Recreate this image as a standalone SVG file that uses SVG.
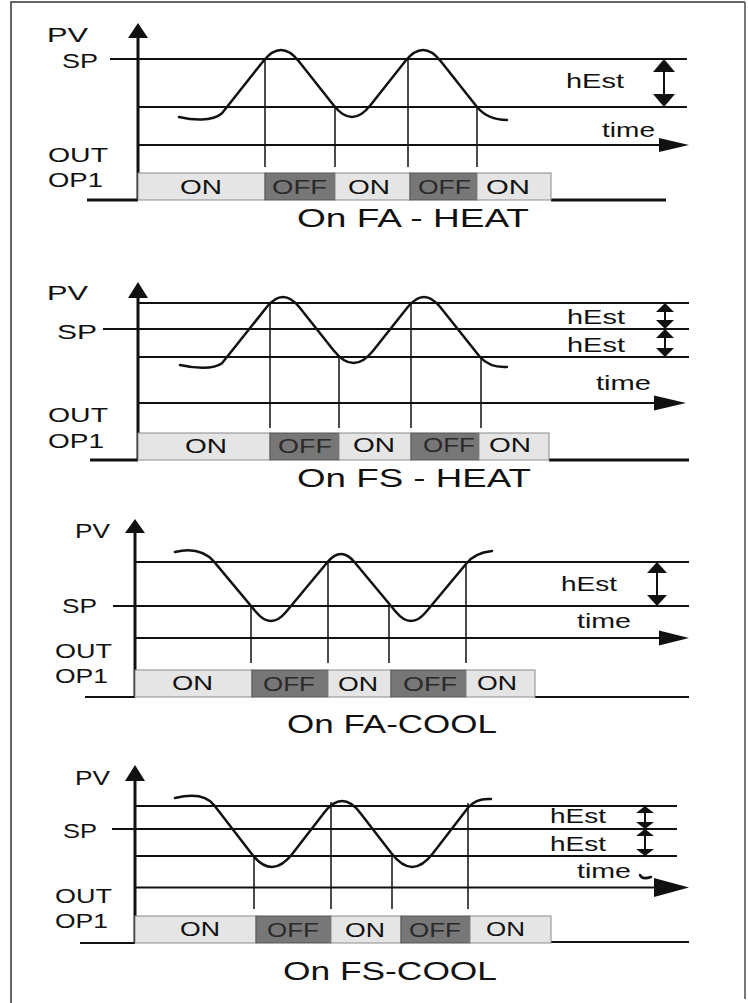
<svg xmlns="http://www.w3.org/2000/svg" width="748" height="1003" viewBox="0 0 748 1003">
<style>
.t{font-family:"Liberation Sans",Arial,sans-serif;fill:#111}
.lb{font-size:21px}
.ttl{font-size:25px}
.ln{stroke:#111;stroke-width:2;fill:none}
.ax{stroke:#111;stroke-width:3;fill:none}
.wave{stroke:#111;stroke-width:2.5;fill:none;stroke-linejoin:round;stroke-linecap:round}
.vt{stroke:#111;stroke-width:1.5}
.on{fill:#e5e5e5;stroke:#8a8a8a;stroke-width:1}
.off{fill:#777;stroke:#555;stroke-width:1}
.offt{fill:#2a2a2a}
.hd{fill:#111}
.frame{stroke:#333;stroke-width:1.5;fill:none}
</style>
<rect width="748" height="1003" fill="#fff"/>
<g id="frame">
<path class="frame" d="M11 1003 V2 H745"/>
<path d="M745 2 V999" stroke="#777" stroke-width="2" fill="none"/>
</g>

<!-- Panel 1 : On FA - HEAT -->
<g id="panel1">
<g id="p1-connectors">
<line class="ax" x1="138" y1="37" x2="138" y2="200"/>
<polygon class="hd" points="128,38 138,23 148,38"/>
<line class="ln" x1="110" y1="59" x2="687" y2="59"/>
<line class="ln" x1="138" y1="107" x2="687" y2="107"/>
<line class="ln" x1="138" y1="145" x2="661" y2="145" stroke-width="2.5"/>
<polygon class="hd" points="659,138 689,145 659,152"/>
<line class="ax" x1="87" y1="200" x2="138" y2="200"/>
<line class="ax" x1="551" y1="200" x2="666" y2="200"/>
<line class="vt" x1="265" y1="59" x2="265" y2="167"/>
<line class="vt" x1="335" y1="107" x2="335" y2="167"/>
<line class="vt" x1="408" y1="59" x2="408" y2="167"/>
<line class="vt" x1="477" y1="107" x2="477" y2="167"/>
<line class="ln" x1="664" y1="66" x2="664" y2="100"/>
<polygon class="hd" points="653,72 664,59 675,72"/>
<polygon class="hd" points="653,94 664,107 675,94"/>
<path class="wave" d="M179 117 C192 120 212 122 222 113.3 L263.2 61.2 Q272.1 50 281 50 T298.8 61.2 L333.8 105.5 Q342.9 117 352 117 T370.2 105.5 L405.2 61.2 Q414.1 50 423 50 T440.8 61.2 L477 107 Q488 120 507 120"/>
</g>
<g id="p1-bar">
<rect class="on" x="138" y="173" width="127" height="27"/>
<rect class="off" x="265" y="173" width="70" height="27"/>
<rect class="on" x="335" y="173" width="75" height="27"/>
<rect class="off" x="410" y="173" width="67" height="27"/>
<rect class="on" x="477" y="173" width="74" height="27"/>
<text class="t lb" x="180" y="194" textLength="42" lengthAdjust="spacingAndGlyphs">ON</text>
<text class="t lb offt" x="272" y="194" textLength="55" lengthAdjust="spacingAndGlyphs">OFF</text>
<text class="t lb" x="348" y="194" textLength="42" lengthAdjust="spacingAndGlyphs">ON</text>
<text class="t lb offt" x="418" y="194" textLength="53" lengthAdjust="spacingAndGlyphs">OFF</text>
<text class="t lb" x="486" y="194" textLength="44" lengthAdjust="spacingAndGlyphs">ON</text>
</g>
<g id="p1-labels">
<text class="t lb" x="47" y="42" textLength="41" lengthAdjust="spacingAndGlyphs">PV</text>
<text class="t lb" x="62" y="68" textLength="36" lengthAdjust="spacingAndGlyphs">SP</text>
<text class="t lb" x="48" y="162" textLength="60" lengthAdjust="spacingAndGlyphs">OUT</text>
<text class="t lb" x="48" y="187" textLength="55" lengthAdjust="spacingAndGlyphs">OP1</text>
<text class="t lb" x="566" y="88" textLength="58" lengthAdjust="spacingAndGlyphs">hEst</text>
<text class="t lb" x="602" y="137" textLength="53" lengthAdjust="spacingAndGlyphs">time</text>
<text class="t ttl" x="297" y="227" textLength="232" lengthAdjust="spacingAndGlyphs">On FA - HEAT</text>
</g>
</g>

<!-- Panel 2 : On FS - HEAT -->
<g id="panel2">
<g id="p2-connectors">
<line class="ax" x1="138" y1="297" x2="138" y2="460"/>
<polygon class="hd" points="128,298 138,282 148,298"/>
<line class="ln" x1="138" y1="303" x2="689" y2="303"/>
<line class="ln" x1="103" y1="329" x2="689" y2="329"/>
<line class="ln" x1="138" y1="357" x2="689" y2="357"/>
<line class="ln" x1="138" y1="403" x2="656" y2="403" stroke-width="3"/>
<polygon class="hd" points="654,395.5 686,403 654,410.5"/>
<line class="ax" x1="90" y1="460" x2="138" y2="460"/>
<line class="ax" x1="549" y1="460" x2="689" y2="460" stroke-width="3.5"/>
<line class="vt" x1="270" y1="303" x2="270" y2="428"/>
<line class="vt" x1="339" y1="357" x2="339" y2="428"/>
<line class="vt" x1="411" y1="303" x2="411" y2="428"/>
<line class="vt" x1="481" y1="357" x2="481" y2="428"/>
<line class="ln" x1="665" y1="308" x2="665" y2="324"/>
<polygon class="hd" points="656,312 665,303 674,312"/>
<polygon class="hd" points="656,320 665,329 674,320"/>
<line class="ln" x1="665" y1="334" x2="665" y2="352"/>
<polygon class="hd" points="656,338 665,329 674,338"/>
<polygon class="hd" points="656,348 665,357 674,348"/>
<path class="wave" d="M180 365 C193 368 213 370 222 363.3 L266.6 307.3 Q274.8 297 283 297 T299.4 307.3 L333.9 350.7 Q343.7 363 353.5 363 T373.1 350.7 L407.6 307.3 Q415.8 297 424 297 T440.4 307.3 L480 357 Q490 368 507 367"/>
</g>
<g id="p2-bar">
<rect class="on" x="138" y="433" width="132" height="27"/>
<rect class="off" x="270" y="433" width="69" height="27"/>
<rect class="on" x="339" y="433" width="72" height="27"/>
<rect class="off" x="411" y="433" width="68" height="27"/>
<rect class="on" x="479" y="433" width="70" height="27"/>
<text class="t lb" x="185" y="453" textLength="42" lengthAdjust="spacingAndGlyphs">ON</text>
<text class="t lb offt" x="278" y="453" textLength="54" lengthAdjust="spacingAndGlyphs">OFF</text>
<text class="t lb" x="353" y="452" textLength="42" lengthAdjust="spacingAndGlyphs">ON</text>
<text class="t lb offt" x="423" y="452" textLength="52" lengthAdjust="spacingAndGlyphs">OFF</text>
<text class="t lb" x="489" y="452" textLength="42" lengthAdjust="spacingAndGlyphs">ON</text>
</g>
<g id="p2-labels">
<text class="t lb" x="47" y="300" textLength="41" lengthAdjust="spacingAndGlyphs">PV</text>
<text class="t lb" x="57" y="339" textLength="40" lengthAdjust="spacingAndGlyphs">SP</text>
<text class="t lb" x="48" y="422" textLength="60" lengthAdjust="spacingAndGlyphs">OUT</text>
<text class="t lb" x="48" y="448" textLength="56" lengthAdjust="spacingAndGlyphs">OP1</text>
<text class="t lb" x="567" y="324" textLength="58" lengthAdjust="spacingAndGlyphs">hEst</text>
<text class="t lb" x="567" y="352" textLength="58" lengthAdjust="spacingAndGlyphs">hEst</text>
<text class="t lb" x="596" y="390" textLength="55" lengthAdjust="spacingAndGlyphs">time</text>
<text class="t ttl" x="297" y="487" textLength="234" lengthAdjust="spacingAndGlyphs">On FS - HEAT</text>
</g>
</g>

<!-- Panel 3 : On FA-COOL -->
<g id="panel3">
<g id="p3-connectors">
<line class="ax" x1="135" y1="532" x2="135" y2="697"/>
<polygon class="hd" points="125,533 135,519 145,533"/>
<line class="ln" x1="135" y1="562" x2="689" y2="562"/>
<line class="ln" x1="113" y1="606" x2="689" y2="606"/>
<line class="ln" x1="135" y1="638" x2="661" y2="638" stroke-width="3"/>
<polygon class="hd" points="659,630.5 689,638 659,645.5"/>
<line class="ln" x1="85" y1="697" x2="135" y2="697"/>
<line class="ln" x1="535" y1="697" x2="689" y2="697"/>
<line class="vt" x1="251" y1="606" x2="251" y2="663" stroke-width="2"/>
<line class="vt" x1="328" y1="562" x2="328" y2="663" stroke-width="2"/>
<line class="vt" x1="389" y1="606" x2="389" y2="663" stroke-width="2"/>
<line class="vt" x1="466" y1="562" x2="466" y2="663" stroke-width="2"/>
<line class="ln" x1="657" y1="569" x2="657" y2="599"/>
<polygon class="hd" points="647,573 657,562 667,573"/>
<polygon class="hd" points="647,595 657,606 667,595"/>
<path class="wave" d="M175 552 Q200 546 214 561.6 L256 612 Q263.5 621 271 621 T286 612 L327.6 562 Q334.3 554 341 554 T354.4 562 L396 612 Q403.5 621 411 621 T426 612 L466 564 Q474 553 492 551"/>
</g>
<g id="p3-bar">
<rect class="on" x="135" y="670" width="117" height="27"/>
<rect class="off" x="252" y="670" width="76" height="27"/>
<rect class="on" x="328" y="670" width="63" height="27"/>
<rect class="off" x="391" y="670" width="75" height="27"/>
<rect class="on" x="466" y="670" width="69" height="27"/>
<text class="t lb" x="172" y="690" textLength="41" lengthAdjust="spacingAndGlyphs">ON</text>
<text class="t lb offt" x="263" y="691" textLength="52" lengthAdjust="spacingAndGlyphs">OFF</text>
<text class="t lb" x="338" y="691" textLength="40" lengthAdjust="spacingAndGlyphs">ON</text>
<text class="t lb offt" x="403" y="691" textLength="54" lengthAdjust="spacingAndGlyphs">OFF</text>
<text class="t lb" x="477" y="690" textLength="40" lengthAdjust="spacingAndGlyphs">ON</text>
</g>
<g id="p3-labels">
<text class="t lb" x="75" y="538" textLength="35" lengthAdjust="spacingAndGlyphs">PV</text>
<text class="t lb" x="62" y="613" textLength="35" lengthAdjust="spacingAndGlyphs">SP</text>
<text class="t lb" x="55" y="658" textLength="57" lengthAdjust="spacingAndGlyphs">OUT</text>
<text class="t lb" x="55" y="683" textLength="53" lengthAdjust="spacingAndGlyphs">OP1</text>
<text class="t lb" x="561" y="591" textLength="56" lengthAdjust="spacingAndGlyphs">hEst</text>
<text class="t lb" x="577" y="628" textLength="54" lengthAdjust="spacingAndGlyphs">time</text>
<text class="t ttl" x="287" y="733" textLength="210" lengthAdjust="spacingAndGlyphs">On FA-COOL</text>
</g>
</g>

<!-- Panel 4 : On FS-COOL -->
<g id="panel4">
<g id="p4-connectors">
<line class="ax" x1="135" y1="780" x2="135" y2="943"/>
<polygon class="hd" points="125,781 135,765 145,781"/>
<line class="ln" x1="135" y1="806" x2="677" y2="806" stroke-width="1.8"/>
<line class="ln" x1="112" y1="829" x2="677" y2="829" stroke-width="1.8"/>
<line class="ln" x1="135" y1="856" x2="677" y2="856" stroke-width="1.8"/>
<line class="ln" x1="135" y1="887.5" x2="656" y2="887.5" stroke-width="5"/>
<polygon class="hd" points="654,878 689,887.5 654,897"/>
<line class="ln" x1="80" y1="943" x2="135" y2="943"/>
<line class="ln" x1="551" y1="942" x2="689" y2="942"/>
<line class="vt" x1="254" y1="856" x2="254" y2="909" stroke-width="3"/>
<line class="vt" x1="331" y1="802" x2="331" y2="909" stroke-width="3"/>
<line class="vt" x1="392" y1="856" x2="392" y2="909" stroke-width="3"/>
<line class="vt" x1="468" y1="803" x2="468" y2="909" stroke-width="3"/>
<line class="ln" x1="645" y1="810" x2="645" y2="825"/>
<polygon class="hd" points="636,813 645,806 654,813"/>
<polygon class="hd" points="636,822 645,829 654,822"/>
<line class="ln" x1="645" y1="833" x2="645" y2="852"/>
<polygon class="hd" points="636,836 645,829 654,836"/>
<polygon class="hd" points="636,849 645,856 654,849"/>
<path class="wave" d="M175 798 Q203 791 214 805 L251.4 853.6 Q261.7 867 272 867 T292.6 853.6 L324.1 812.7 Q333.1 801 342.1 801 T360.1 812.7 L391.6 853.6 Q401.9 867 412.2 867 T432.8 853.6 L468 807.8 Q476 798 491 799"/>
<path d="M640 875 Q642 880 651 877" stroke="#111" stroke-width="2.5" fill="none" stroke-linecap="round"/>
</g>
<g id="p4-bar">
<rect class="on" x="135" y="916" width="121" height="27"/>
<rect class="off" x="256" y="916" width="75" height="27"/>
<rect class="on" x="331" y="916" width="70" height="27"/>
<rect class="off" x="401" y="916" width="69" height="27"/>
<rect class="on" x="470" y="916" width="81" height="27"/>
<text class="t lb" x="180" y="936" textLength="40" lengthAdjust="spacingAndGlyphs">ON</text>
<text class="t lb offt" x="267" y="937" textLength="52" lengthAdjust="spacingAndGlyphs">OFF</text>
<text class="t lb" x="345" y="937" textLength="40" lengthAdjust="spacingAndGlyphs">ON</text>
<text class="t lb offt" x="409" y="937" textLength="52" lengthAdjust="spacingAndGlyphs">OFF</text>
<text class="t lb" x="486" y="936" textLength="39" lengthAdjust="spacingAndGlyphs">ON</text>
</g>
<g id="p4-labels">
<text class="t lb" x="75" y="785" textLength="35" lengthAdjust="spacingAndGlyphs">PV</text>
<text class="t lb" x="63" y="838" textLength="34" lengthAdjust="spacingAndGlyphs">SP</text>
<text class="t lb" x="55" y="903" textLength="57" lengthAdjust="spacingAndGlyphs">OUT</text>
<text class="t lb" x="55" y="928" textLength="53" lengthAdjust="spacingAndGlyphs">OP1</text>
<text class="t lb" x="550" y="823" textLength="56" lengthAdjust="spacingAndGlyphs" font-size="19">hEst</text>
<text class="t lb" x="550" y="851" textLength="56" lengthAdjust="spacingAndGlyphs" font-size="19">hEst</text>
<text class="t lb" x="577" y="878" textLength="54" lengthAdjust="spacingAndGlyphs" font-size="19">time</text>
<text class="t ttl" x="283" y="980" textLength="214" lengthAdjust="spacingAndGlyphs">On FS-COOL</text>
</g>
</g>
</svg>
